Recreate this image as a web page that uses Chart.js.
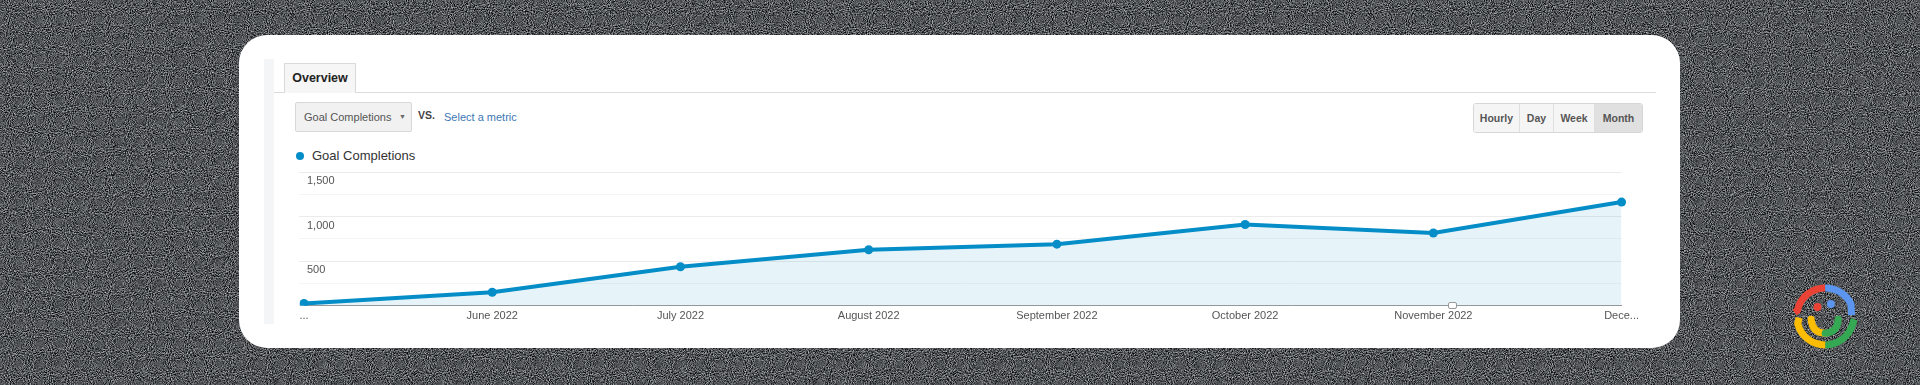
<!DOCTYPE html>
<html>
<head>
<meta charset="utf-8">
<script src="https://cdn.jsdelivr.net/npm/chart.js@4.4.0/dist/chart.umd.min.js"></script>
<style>
  html, body { margin:0; padding:0; width:1920px; height:385px; overflow:hidden; background:#4e5154; font-family:"Liberation Sans", Arial, sans-serif; }
  .abs { position:absolute; }
  #card { left:239px; top:35px; width:1441px; height:313px; background:#fff; border-radius:28px; }
  #strip { left:264px; top:59px; width:10px; height:265px; background:#f3f5f7; }
  #hline { left:274px; top:92px; width:1382px; height:1px; background:#dcdcdc; }
  #tab { left:284px; top:63px; width:70px; height:29px; background:#f6f6f6; border:1px solid #dadada; border-bottom:none; font-weight:bold; font-size:12.5px; color:#222; line-height:29px; text-align:center; }
  #dd { left:295px; top:102px; width:115px; height:28px; background:#f1f1f1; border:1px solid #d8d8d8; border-radius:2px; font-size:11px; color:#555; line-height:28px; }
  #dd span.t { position:absolute; left:8px; }
  #dd span.a { position:absolute; left:103px; top:0; font-size:7px; color:#666; }
  #vs { left:418px; top:109px; font-size:10.5px; font-weight:bold; color:#444; }
  #sel { left:444px; top:111px; font-size:11px; color:#3d77b5; }
  #legdot { left:296px; top:152px; width:8px; height:8px; border-radius:50%; background:#058dc7; }
  #legtxt { left:312px; top:148px; font-size:13px; color:#333; }
  #btns { left:1473px; top:103px; height:28px; border:1px solid #d6d6d6; border-radius:3px; display:flex; overflow:hidden; }
  #btns div { height:28px; line-height:28px; font-size:10.5px; font-weight:bold; color:#555; background:#f5f5f5; text-align:center; border-right:1px solid #dedede; }
  #btns div:last-child { border-right:none; background:#e0e0e0; }
  #chartwrap { left:293px; top:160px; width:1350px; height:168px; }
  #marker { left:1448px; top:302px; width:7px; height:5px; border:1px solid #999; border-radius:2px; background:#fff; }
</style>
</head>
<body>
<svg class="abs" style="left:0;top:0" width="1920" height="385">
  <filter id="noise" x="0" y="0" width="100%" height="100%" color-interpolation-filters="sRGB">
    <feTurbulence type="fractalNoise" baseFrequency="0.95" numOctaves="2" stitchTiles="stitch"/>
    <feColorMatrix type="matrix" values="1.2 0 0 0 -0.28  1.2 0 0 0 -0.27  1.2 0 0 0 -0.26  0 0 0 0 1"/>
  </filter>
  <rect width="1920" height="385" filter="url(#noise)"/>
</svg>

<div id="card" class="abs"></div>
<div id="strip" class="abs"></div>
<div id="hline" class="abs"></div>
<div id="tab" class="abs">Overview</div>
<div id="dd" class="abs"><span class="t">Goal Completions</span><span class="a">&#9660;</span></div>
<div id="vs" class="abs">VS.</div>
<div id="sel" class="abs">Select a metric</div>
<div id="legdot" class="abs"></div>
<div id="legtxt" class="abs">Goal Completions</div>
<div id="btns" class="abs">
  <div style="width:45px">Hourly</div>
  <div style="width:33px">Day</div>
  <div style="width:40px">Week</div>
  <div style="width:47px">Month</div>
</div>
<div id="chartwrap" class="abs"><canvas id="c" width="1350" height="168"></canvas></div>
<div id="marker" class="abs"></div>

<svg class="abs" style="left:1790px;top:283px" width="67" height="67" viewBox="270 100 200 200">
  <g fill="none" stroke-width="21" stroke-linejoin="round">
    <path d="M375,115 A85,85 0 0 0 292,182 L284,188" stroke="#ea4335"/>
    <path d="M375,115 A85,85 0 0 1 452,163 L454,196" stroke="#5b95ee"/>
    <path d="M462,208 L457,222 A85,85 0 0 1 375,285" stroke="#34a853"/>
    <path d="M375,285 A85,85 0 0 1 293,222 L297,204" stroke="#fbbc04"/>
    <path d="M333,208 Q336,248 375,250" stroke="#fbbc04" stroke-linecap="round"/>
    <path d="M375,250 Q412,248 414,208" stroke="#34a853" stroke-linecap="round"/>
  </g>
  <circle cx="352" cy="172" r="12" fill="#ea4335"/>
  <circle cx="392" cy="163" r="12" fill="#5b95ee"/>
</svg>

<script>
const categories = ["...", "June 2022", "July 2022", "August 2022", "September 2022", "October 2022", "November 2022", "Dece..."];
const goalCompletions = [27, 152, 438, 628, 691, 911, 816, 1163];
const yTickLabels = { 500: "500", 1000: "1,000", 1500: "1,500" };

new Chart(document.getElementById('c'), {
  type: 'line',
  data: {
    labels: categories,
    datasets: [{
      label: 'Goal Completions',
      data: goalCompletions,
      borderColor: '#058dc7',
      borderWidth: 4,
      backgroundColor: 'rgba(5,141,199,0.1)',
      fill: 'origin',
      pointRadius: 4.5,
      pointBackgroundColor: '#058dc7',
      pointBorderWidth: 0,
      tension: 0
    }]
  },
  options: {
    responsive: false,
    devicePixelRatio: 1,
    animation: false,
    layout: { padding: { left: 0, right: 19, top: 12, bottom: 1 } },
    plugins: { legend: { display: false }, tooltip: { enabled: false } },
    scales: {
      x: {
        offset: false,
        grid: { display: false, drawTicks: false },
        border: { display: true, color: '#9a9a9a', width: 1 },
        ticks: { padding: 4, maxRotation: 0, autoSkip: false, color: '#555', font: { family: '"Liberation Sans", Arial', size: 11 } }
      },
      y: {
        min: 0, max: 1500,
        border: { display: false },
        grid: {
          drawTicks: true, tickLength: 5,
          color: (ctx) => (ctx.tick && ctx.tick.value % 500 === 0) ? '#ebebeb' : '#f5f5f5'
        },
        ticks: {
          stepSize: 250, mirror: true, padding: 3, labelOffset: 9,
          color: '#555', font: { family: '"Liberation Sans", Arial', size: 11 },
          callback: (v) => yTickLabels[v] || ''
        }
      }
    }
  }
});
</script>
</body>
</html>
